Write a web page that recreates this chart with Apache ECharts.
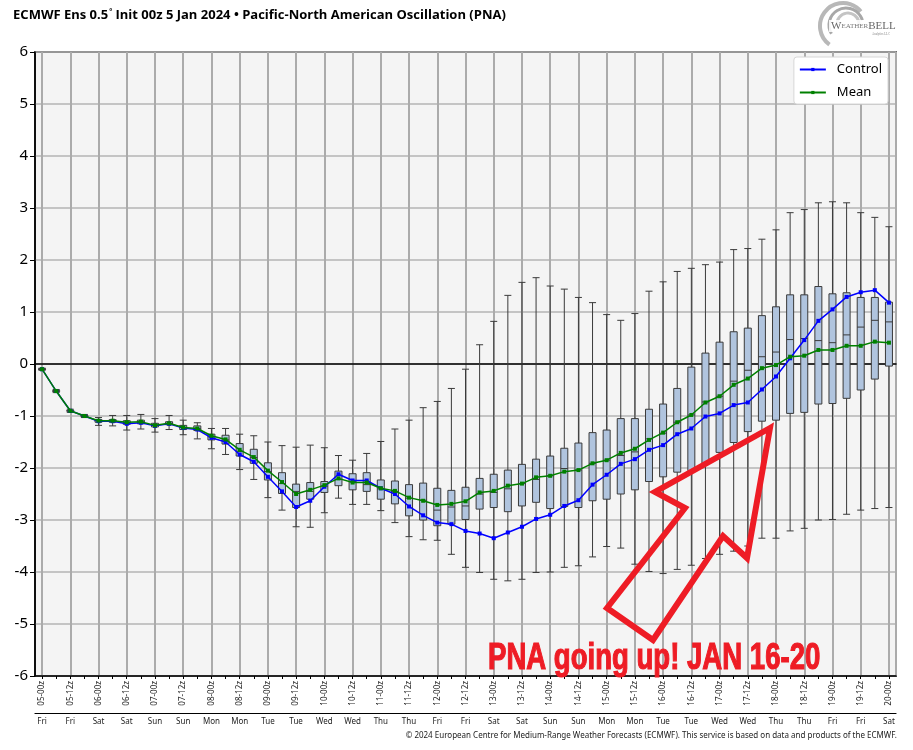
<!DOCTYPE html>
<html>
<head>
<meta charset="utf-8">
<script src="https://cdn.jsdelivr.net/npm/echarts@6/dist/echarts.min.js"></script>
<style>html,body{margin:0;padding:0;background:#fff;}#c{width:913px;height:750px;}</style>
</head>
<body>
<div id="c"></div>
<script>
const categories = ["05-00z","05-06z","05-12z","05-18z","06-00z","06-06z","06-12z","06-18z","07-00z","07-06z","07-12z","07-18z","08-00z","08-06z","08-12z","08-18z","09-00z","09-06z","09-12z","09-18z","10-00z","10-06z","10-12z","10-18z","11-00z","11-06z","11-12z","11-18z","12-00z","12-06z","12-12z","12-18z","13-00z","13-06z","13-12z","13-18z","14-00z","14-06z","14-12z","14-18z","15-00z","15-06z","15-12z","15-18z","16-00z","16-06z","16-12z","16-18z","17-00z","17-06z","17-12z","17-18z","18-00z","18-06z","18-12z","18-18z","19-00z","19-06z","19-12z","19-18z","20-00z"];
const dayNames = ["Fri","Fri","Fri","Fri","Sat","Sat","Sat","Sat","Sun","Sun","Sun","Sun","Mon","Mon","Mon","Mon","Tue","Tue","Tue","Tue","Wed","Wed","Wed","Wed","Thu","Thu","Thu","Thu","Fri","Fri","Fri","Fri","Sat","Sat","Sat","Sat","Sun","Sun","Sun","Sun","Mon","Mon","Mon","Mon","Tue","Tue","Tue","Tue","Wed","Wed","Wed","Wed","Thu","Thu","Thu","Thu","Fri","Fri","Fri","Fri","Sat"];
const yTicks = [-6,-5,-4,-3,-2,-1,0,1,2,3,4,5,6];
const ensMin = [-0.12,-0.55,-0.93,-1.03,-1.18,-1.19,-1.27,-1.25,-1.31,-1.26,-1.36,-1.44,-1.63,-1.74,-2.03,-2.22,-2.57,-2.81,-3.13,-3.14,-2.86,-2.58,-2.70,-2.70,-2.82,-3.05,-3.32,-3.38,-3.39,-3.66,-3.91,-4.01,-4.14,-4.17,-4.14,-4.01,-4.00,-3.91,-3.88,-3.71,-3.51,-3.54,-3.85,-3.99,-4.03,-3.95,-3.87,-3.74,-3.66,-3.60,-3.50,-3.35,-3.35,-3.21,-3.16,-3.00,-2.99,-2.89,-2.81,-2.78,-2.76];
const ensQ1 = [-0.11,-0.53,-0.91,-1.01,-1.12,-1.12,-1.16,-1.15,-1.21,-1.17,-1.26,-1.28,-1.46,-1.54,-1.77,-1.91,-2.23,-2.49,-2.76,-2.60,-2.47,-2.34,-2.42,-2.45,-2.60,-2.69,-2.92,-3.00,-3.11,-3.08,-2.99,-2.79,-2.76,-2.84,-2.73,-2.66,-2.78,-2.74,-2.76,-2.63,-2.60,-2.50,-2.42,-2.26,-2.17,-2.08,-2.05,-1.91,-1.70,-1.51,-1.30,-1.10,-1.08,-0.95,-0.93,-0.77,-0.76,-0.66,-0.50,-0.29,-0.04];
const ensMedian = [-0.10,-0.52,-0.90,-1.00,-1.09,-1.09,-1.13,-1.11,-1.18,-1.14,-1.22,-1.24,-1.40,-1.46,-1.68,-1.80,-2.07,-2.30,-2.45,-2.45,-2.35,-2.22,-2.26,-2.32,-2.40,-2.45,-2.58,-2.62,-2.81,-2.75,-2.73,-2.50,-2.47,-2.40,-2.30,-2.22,-2.15,-2.01,-2.04,-1.91,-1.85,-1.76,-1.69,-1.44,-1.33,-1.12,-0.98,-0.73,-0.62,-0.33,-0.12,0.14,0.23,0.47,0.49,0.45,0.41,0.56,0.71,0.84,0.81];
const ensQ3 = [-0.09,-0.51,-0.89,-0.99,-1.07,-1.07,-1.09,-1.08,-1.14,-1.11,-1.18,-1.19,-1.35,-1.37,-1.53,-1.64,-1.90,-2.09,-2.31,-2.28,-2.26,-2.06,-2.11,-2.09,-2.23,-2.25,-2.32,-2.29,-2.39,-2.43,-2.37,-2.20,-2.12,-2.04,-1.93,-1.83,-1.77,-1.62,-1.52,-1.32,-1.27,-1.05,-1.05,-0.87,-0.77,-0.47,-0.06,0.21,0.42,0.62,0.69,0.93,1.10,1.33,1.33,1.49,1.35,1.37,1.28,1.28,1.19];
const ensMax = [-0.08,-0.49,-0.87,-0.97,-1.03,-0.99,-0.99,-0.97,-1.05,-0.99,-1.08,-1.13,-1.24,-1.24,-1.35,-1.38,-1.50,-1.57,-1.60,-1.56,-1.61,-1.76,-1.85,-1.72,-1.49,-1.25,-1.08,-0.84,-0.72,-0.47,-0.10,0.37,0.82,1.32,1.57,1.66,1.50,1.44,1.28,1.18,0.95,0.84,0.97,1.40,1.58,1.78,1.84,1.91,1.96,2.20,2.22,2.40,2.58,2.91,2.97,3.10,3.12,3.10,2.91,2.82,2.64];
const controlRun = [-0.10,-0.52,-0.90,-1.00,-1.10,-1.10,-1.15,-1.13,-1.19,-1.15,-1.23,-1.26,-1.42,-1.50,-1.74,-1.88,-2.17,-2.45,-2.75,-2.63,-2.36,-2.12,-2.24,-2.24,-2.39,-2.50,-2.74,-2.91,-3.05,-3.08,-3.21,-3.26,-3.35,-3.24,-3.13,-2.98,-2.90,-2.73,-2.62,-2.32,-2.13,-1.92,-1.83,-1.65,-1.56,-1.35,-1.24,-1.01,-0.95,-0.79,-0.74,-0.49,-0.24,0.11,0.46,0.83,1.05,1.29,1.38,1.42,1.18];
const ensMean = [-0.10,-0.52,-0.90,-1.00,-1.09,-1.09,-1.12,-1.11,-1.18,-1.14,-1.22,-1.24,-1.38,-1.45,-1.65,-1.79,-2.05,-2.27,-2.50,-2.42,-2.33,-2.20,-2.28,-2.28,-2.39,-2.44,-2.57,-2.63,-2.71,-2.69,-2.64,-2.47,-2.44,-2.34,-2.30,-2.18,-2.15,-2.07,-2.04,-1.91,-1.85,-1.71,-1.63,-1.46,-1.32,-1.12,-0.98,-0.74,-0.62,-0.40,-0.28,-0.08,-0.02,0.14,0.16,0.27,0.27,0.35,0.35,0.43,0.41];

const boxData = categories.map((c, i) => [ensMin[i], ensQ1[i], ensMedian[i], ensQ3[i], ensMax[i]]);
// helper axis with two half-bands per 6-hour step, so its band boundaries fall on the step centres
const halfSteps = categories.flatMap(c => [c + 'a', c + 'b']);

const chart = echarts.init(document.getElementById('c'));
const FONT = 'Noto Sans';
chart.setOption({
  animation: false,
  backgroundColor: '#ffffff',
  title: {
    left: 8, top: 3,
    text: '{b|ECMWF Ens 0.5}{s|°}{r| Init 00z 5 Jan 2024 • Pacific-North American Oscillation (PNA)}',
    textStyle: {
      rich: {
        b: {fontFamily: FONT, fontSize: 13, fontWeight: 'bold', color: '#000'},
        s: {fontFamily: FONT, fontSize: 7, color: '#000', padding: [0, 0, 7, 1]},
        r: {fontFamily: 'Open Sans', fontSize: 13, color: '#000'}
      }
    }
  },
  legend: {
    right: 25, top: 57, orient: 'vertical',
    backgroundColor: '#ffffff', borderColor: '#d6d6d6', borderWidth: 1, borderRadius: 3,
    padding: [6, 6, 5, 5], itemGap: 10, itemWidth: 26, itemHeight: 4,
    textStyle: {fontFamily: FONT, fontSize: 13, color: '#000', padding: [0, 0, 0, 6]},
    data: ['Control', 'Mean']
  },
  grid: {
    left: 35, right: 17, top: 52, bottom: 74, show: true,
    backgroundColor: '#f4f4f4', borderColor: '#000', borderWidth: 1.5
  },
  xAxis: [{
    type: 'category', data: categories, boundaryGap: true, position: 'bottom',
    axisLine: {show: true, onZero: false, lineStyle: {color: '#000', width: 1.5}},
    axisTick: {show: true, interval: 0, alignWithLabel: true, length: 3, lineStyle: {color: '#000'}},
    axisLabel: {interval: 1, rotate: 90, fontFamily: FONT, fontSize: 8, color: '#222', margin: 5},
    splitLine: {show: false}
  }, {
    type: 'category', data: dayNames, boundaryGap: true, position: 'bottom', offset: 37,
    axisLine: {show: true, onZero: false, lineStyle: {color: '#000', width: 1.2}},
    axisTick: {show: false},
    axisLabel: {interval: 1, fontFamily: FONT, fontSize: 8, color: '#222', margin: 5},
    splitLine: {show: false}
  }, {
    type: 'category', data: halfSteps, boundaryGap: true, position: 'top',
    axisLine: {show: true, onZero: true, lineStyle: {color: '#000', width: 1.5}},
    axisTick: {show: false},
    axisLabel: {show: false},
    splitLine: {show: true, interval: (idx) => idx % 4 === 1, lineStyle: {color: '#ababab', width: 2}}
  }],
  yAxis: {
    type: 'value', min: -6, max: 6, interval: 1,
    axisLine: {show: true, lineStyle: {color: '#000', width: 1.5}},
    axisTick: {show: true, length: 5, lineStyle: {color: '#000'}},
    axisLabel: {fontFamily: FONT, fontSize: 15, color: '#000', margin: 7,
      formatter: v => yTicks.includes(v) ? String(v) : ''},
    splitLine: {show: true, lineStyle: {color: '#b4b4b4', width: 1.5}}
  },
  series: [{
    type: 'boxplot', name: 'Ensemble', data: boxData, z: 3, boxWidth: [7, 7],
    itemStyle: {color: '#b0c4de', borderColor: '#3a3a3a', borderWidth: 1}
  }, {
    type: 'line', name: 'Control', data: controlRun, z: 4,
    symbol: 'rect', symbolSize: 4, showSymbol: true,
    lineStyle: {color: '#0000ff', width: 1.5}, itemStyle: {color: '#0000ff'}
  }, {
    type: 'line', name: 'Mean', data: ensMean, z: 5,
    symbol: 'rect', symbolSize: 4, showSymbol: true,
    lineStyle: {color: '#008000', width: 1.5}, itemStyle: {color: '#008000'}
  }],
  graphic: [
    {type: 'text', right: 16, top: 732, style: {
      text: '© 2024 European Centre for Medium-Range Weather Forecasts (ECMWF). This service is based on data and products of the ECMWF.',
      fontFamily: FONT, fontSize: 8, fill: '#222'}},
    {type: 'polygon', z: 100, shape: {points: [[770,428],[655,492],[685,508],[607,608],[653,640],[723,536],[747,558]]},
      style: {fill: 'none', stroke: '#ee1c25', lineWidth: 6, lineJoin: 'miter'}},
    {type: 'text', z: 100, x: 488, y: 640, scaleX: 0.745, style: {
      text: 'PNA going up! JAN 16-20', fontFamily: 'Liberation Sans', fontWeight: 'bold', fontSize: 37,
      fill: '#ee1c25', stroke: '#ee1c25', lineWidth: 1.2}},
    {type: 'group', z: 100, children: [
      {type: 'arc', shape: {cx: 843, cy: 26, r: 23, startAngle: 2.2, endAngle: 5.6}, style: {stroke: '#b8b8b8', lineWidth: 4, fill: 'none'}},
      {type: 'arc', shape: {cx: 846, cy: 25, r: 17, startAngle: 2.6, endAngle: 6.0}, style: {stroke: '#a8a8a8', lineWidth: 3, fill: 'none'}},
      {type: 'arc', shape: {cx: 848, cy: 24, r: 11, startAngle: 3.0, endAngle: 6.4}, style: {stroke: '#c4c4c4', lineWidth: 3, fill: 'none'}},
      {type: 'rect', shape: {x: 829, y: 20, width: 70, height: 12}, style: {fill: '#ffffff', opacity: 0.85}},
      {type: 'text', x: 831, y: 21, style: {text: '{a|W}{b|EATHER}{a|BELL}', rich: {
        a: {fontFamily: 'Liberation Serif', fontSize: 11, fill: '#666'},
        b: {fontFamily: 'Liberation Serif', fontSize: 7, fill: '#777'}}}},
      {type: 'text', x: 872, y: 33, style: {text: 'Analytics LLC', fontFamily: 'Liberation Serif', fontSize: 3, fill: '#888'}}
    ]}
  ]
});
</script>
</body>
</html>
